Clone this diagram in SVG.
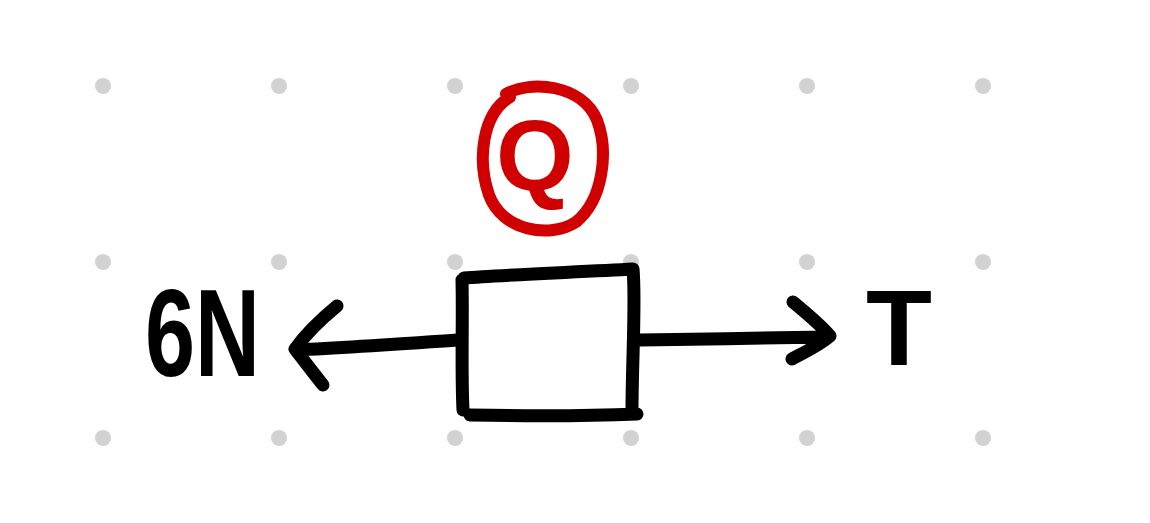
<svg xmlns="http://www.w3.org/2000/svg" width="1150" height="523" viewBox="0 0 1150 523">
<style>
.dot{fill:#d2d2d2}
.ink{fill:none;stroke:#000;stroke-width:13;stroke-linecap:round;stroke-linejoin:round}
.red{fill:none;stroke:#d00000;stroke-width:12;stroke-linecap:round}
.lbl{font-family:"Liberation Sans",Arial,sans-serif;font-weight:bold;fill:#000}
</style>
<rect width="1150" height="523" fill="#fff"/>
<g id="grid">
<circle class="dot" cx="103" cy="86" r="8"/><circle class="dot" cx="279" cy="86" r="8"/><circle class="dot" cx="455" cy="86" r="8"/><circle class="dot" cx="631" cy="86" r="8"/><circle class="dot" cx="807" cy="86" r="8"/><circle class="dot" cx="983" cy="86" r="8"/>
<circle class="dot" cx="103" cy="262" r="8"/><circle class="dot" cx="279" cy="262" r="8"/><circle class="dot" cx="455" cy="262" r="8"/><circle class="dot" cx="631" cy="262" r="8"/><circle class="dot" cx="807" cy="262" r="8"/><circle class="dot" cx="983" cy="262" r="8"/>
<circle class="dot" cx="103" cy="438" r="8"/><circle class="dot" cx="279" cy="438" r="8"/><circle class="dot" cx="455" cy="438" r="8"/><circle class="dot" cx="631" cy="438" r="8"/><circle class="dot" cx="807" cy="438" r="8"/><circle class="dot" cx="983" cy="438" r="8"/>
</g>
<g id="label-q">
<path class="red" d="M506 94 C530 80 582 84 597 120 C609 152 603 200 576 222 C550 239 502 231 489 195 C477 160 482 114 510 97"/>
<text x="535" y="190" text-anchor="middle" font-family="Liberation Sans, Arial, sans-serif" font-weight="bold" font-size="100" fill="#d00000">Q</text>
</g>
<g id="box">
<path class="ink" d="M464 278 C500 275 580 272 633 269 C636 300 632 360 632 412 M462 280 C463 320 461 370 463 410 M470 415 C520 416 590 416 637 414"/>
</g>
<g id="connectors">
<path class="ink" d="M458 340 C400 344 340 348 296 350 M337 306 C320 320 305 335 295 349 C305 362 315 375 323 385"/>
<path class="ink" d="M640 340 C700 339 770 338 828 337 M793 302 C805 312 820 324 830 336 C820 345 805 352 792 359"/>
</g>
<g id="label-6n">
<text class="lbl" x="145" y="376" font-size="124" textLength="115" lengthAdjust="spacingAndGlyphs">6N</text>
</g>
<g id="label-t">
<text class="lbl" x="866" y="365" font-size="108">T</text>
</g>
</svg>
